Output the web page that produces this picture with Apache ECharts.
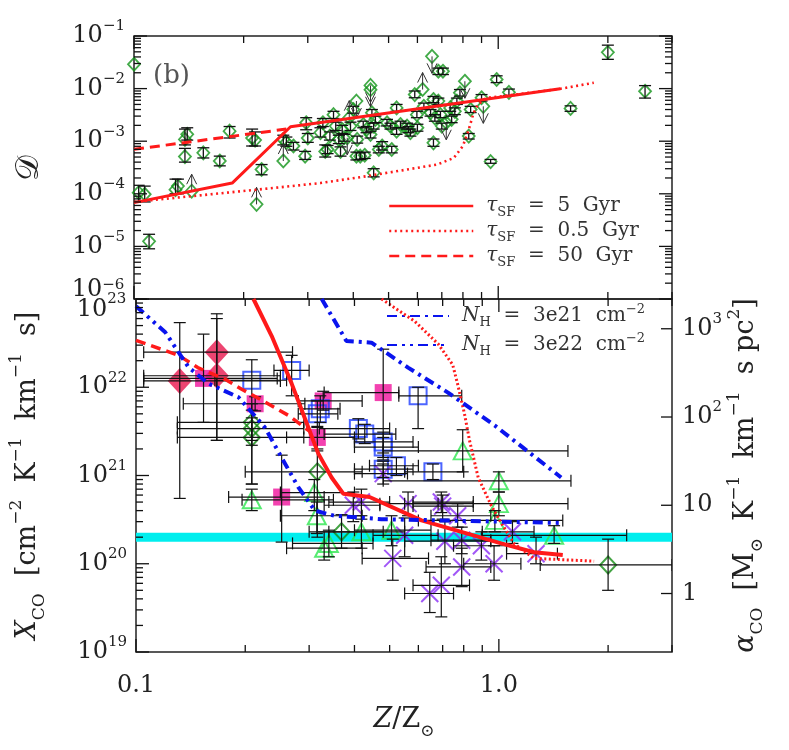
<!DOCTYPE html>
<html><head><meta charset="utf-8">
<script src="https://cdn.jsdelivr.net/npm/echarts@6/dist/echarts.min.js"></script>
<style>html,body{margin:0;padding:0;background:#fff}#c{width:789px;height:750px}</style>
</head><body><div id="c"></div><script>
// ---------------- axis ranges & ticks ----------------
const X_RANGE = [0.1, 3.0];
const D_RANGE = [1e-6, 1e-1];
const XCO_RANGE = [1e19, 1e23];
const XCO_PER_ALPHA = 4.6e19;
const xLabelTicks = [0.1, 1.0];
const xMinorTicks = [0.2, 0.3, 0.4, 0.5, 0.6, 0.7, 0.8, 0.9, 2, 3];
const dDecades = [1e-6, 1e-5, 1e-4, 1e-3, 1e-2, 1e-1];
const xcoDecades = [1e19, 1e20, 1e21, 1e22, 1e23];
const alphaTicks = [1, 10, 100, 1000];
const XCO_MILKY_WAY = 2e20;

// ---------------- top panel: dust-to-gas data [Z, D, Dlo, Dhi] ----------------
const topPoints = [
 [0.100, 2.9e-2, null, null], [0.103, 1.05e-4, 7.2e-5, 1.45e-4], [0.107, 9.8e-5, 7.0e-5, 1.4e-4],
 [0.110, 1.25e-5, 9.0e-6, 1.7e-5], [0.130, 1.2e-4, 1.0e-4, 1.9e-4], [0.132, 1.4e-4, 1.0e-4, 1.9e-4],
 [0.138, 1.08e-3, 8.5e-4, 1.7e-3], [0.140, 1.35e-3, 1.05e-3, 1.8e-3], [0.138, 5.1e-4, 4.0e-4, 7.3e-4],
 [0.155, 6.0e-4, 4.8e-4, 7.5e-4], [0.172, 4.2e-4, 3.4e-4, 5.2e-4], [0.183, 1.55e-3, 1.15e-3, 1.9e-3],
 [0.211, 1.15e-3, 8.1e-4, 1.7e-3], [0.215, 1.05e-3, 8.1e-4, 1.5e-3], [0.224, 2.9e-4, 2.3e-4, 3.6e-4],
 [0.257, 1.08e-3, 8.5e-4, 1.3e-3], [0.262, 9.5e-4, 8.0e-4, 1.2e-3], [0.274, 8.1e-4, 6.8e-4, 9.5e-4],
 [0.295, 5.2e-4, 4.5e-4, 6.4e-4], [0.297, 2.24e-3, 1.65e-3, 2.8e-3], [0.300, 1.15e-3, 9.5e-4, 1.4e-3],
 [0.325, 1.45e-3, 1.2e-3, 1.8e-3], [0.330, 2.24e-3, 1.9e-3, 2.7e-3], [0.335, 6.4e-4, 5.0e-4, 8.5e-4],
 [0.340, 6.95e-4, 5.8e-4, 8.3e-4], [0.345, 1.25e-3, 1.05e-3, 1.5e-3], [0.353, 3.2e-3, 2.7e-3, 3.7e-3],
 [0.358, 1.94e-3, 1.6e-3, 2.3e-3], [0.365, 1.08e-3, 9.0e-4, 1.3e-3], [0.369, 6.4e-4, 5.2e-4, 7.8e-4],
 [0.373, 1.67e-3, 1.4e-3, 2.0e-3], [0.377, 1.16e-3, 1.0e-3, 1.35e-3], [0.393, 1.94e-3, 1.6e-3, 2.3e-3],
 [0.400, 4.0e-3, 3.4e-3, 4.6e-3], [0.408, 5.2e-4, 4.4e-4, 6.2e-4], [0.410, 1.08e-3, 9.2e-4, 1.25e-3],
 [0.418, 5.2e-4, 4.5e-4, 6.0e-4], [0.426, 2.08e-3, 1.8e-3, 2.4e-3], [0.430, 5.4e-4, 4.7e-4, 6.2e-4],
 [0.435, 1.67e-3, 1.45e-3, 1.9e-3], [0.446, 1.34e-3, 1.15e-3, 1.55e-3], [0.450, 3.47e-3, 3.0e-3, 4.0e-3],
 [0.455, 1.94e-3, 1.7e-3, 2.2e-3], [0.455, 2.5e-4, 2.1e-4, 3.0e-4], [0.460, 2.6e-3, 2.25e-3, 3.0e-3],
 [0.470, 6.95e-4, 6.0e-4, 8.0e-4], [0.480, 8.1e-4, 6.8e-4, 9.8e-4], [0.495, 2.24e-3, 1.95e-3, 2.6e-3],
 [0.506, 1.94e-3, 1.7e-3, 2.2e-3], [0.510, 6.95e-4, 6.0e-4, 8.0e-4], [0.526, 4.3e-3, 3.7e-3, 5.0e-3],
 [0.526, 1.55e-3, 1.35e-3, 1.8e-3], [0.539, 2.08e-3, 1.8e-3, 2.4e-3], [0.562, 1.94e-3, 1.7e-3, 2.2e-3],
 [0.567, 1.67e-3, 1.45e-3, 1.9e-3], [0.574, 1.45e-3, 1.25e-3, 1.7e-3], [0.590, 7.7e-3, 6.7e-3, 9.0e-3],
 [0.598, 3.2e-3, 2.8e-3, 3.7e-3], [0.600, 1.8e-3, 1.55e-3, 2.1e-3], [0.625, 4.6e-3, 4.0e-3, 5.3e-3],
 [0.652, 3.47e-3, 3.0e-3, 4.0e-3], [0.664, 9.3e-4, 8.0e-4, 1.1e-3], [0.664, 6.2e-3, 5.4e-3, 7.1e-3],
 [0.670, 2.78e-3, 2.4e-3, 3.2e-3], [0.685, 5.8e-3, 5.0e-3, 6.6e-3], [0.685, 2.14e-2, 1.85e-2, 2.45e-2],
 [0.705, 2.14e-2, 1.85e-2, 2.45e-2], [0.694, 3.2e-3, 2.8e-3, 3.7e-3], [0.700, 1.94e-3, 1.7e-3, 2.2e-3],
 [0.738, 4.3e-3, 3.7e-3, 5.0e-3], [0.745, 2.6e-3, 2.25e-3, 3.0e-3], [0.760, 3.7e-3, 3.2e-3, 4.3e-3],
 [0.770, 5.8e-3, 5.0e-3, 6.6e-3], [0.785, 8.3e-3, 7.2e-3, 9.6e-3], [0.830, 1.25e-3, 1.1e-3, 1.4e-3],
 [0.840, 4.0e-3, 3.5e-3, 4.6e-3], [0.900, 6.7e-3, 5.8e-3, 7.7e-3], [0.953, 4.1e-4, 3.8e-4, 4.5e-4],
 [0.990, 1.49e-2, 1.3e-2, 1.75e-2], [1.07, 8.5e-3, 7.4e-3, 9.8e-3], [1.58, 4.2e-3, 3.7e-3, 4.7e-3],
 [2.00, 4.9e-2, 3.6e-2, 6.7e-2], [2.53, 8.9e-3, 6.6e-3, 1.14e-2]
];
const topLowerLimits = [[0.144, 1.12e-4], [0.217, 6.3e-5], [0.257, 4.2e-4], [0.620, 9.6e-3], [0.390, 2.8e-3]];
const topUpperLimits = [[0.385, 1.16e-3], [0.408, 5.8e-3], [0.446, 1.15e-2], [0.446, 9.5e-3],
 [0.658, 4.1e-2], [0.720, 2.24e-3], [0.810, 1.38e-2], [0.910, 4.6e-3]];

// top panel model curves
const tau5TopZ = [0.1, 0.186, 0.269, 1.48];
const tau5TopD = [6.8e-5, 1.6e-4, 1.88e-3, 9.9e-3];
const tau05TopZ = [0.1, 0.218, 0.325, 0.435, 0.68, 0.755, 0.80, 0.83, 0.856, 0.88, 0.93, 1.0, 1.48, 1.83];
const tau05TopD = [7.0e-5, 1.2e-4, 1.6e-4, 2.16e-4, 3.6e-4, 4.8e-4, 8.1e-4, 1.67e-3, 3.47e-3, 5.0e-3, 6.7e-3, 7.0e-3, 9.9e-3, 1.29e-2];
const tau50TopZ = [0.1, 0.262];
const tau50TopD = [7.0e-4, 1.7e-3];

// ---------------- bottom panel: X_CO data [Z, X, Zlo, Zhi, Xlo, Xhi] ----------------
const crimsonDiamonds = [
 [0.132, 1.18e22, 0.105, 0.25, 5.5e20, 5.4e22],
 [0.167, 2.5e22, 0.105, 0.27, 2.5e21, 6.8e22],
 [0.167, 1.35e22, 0.105, 0.25, 2.5e21, 6.0e22]
];
const magentaSquares = [
 [0.1535, 1.26e22, 0.105, 0.245, 4.0e21, 4.0e22],
 [0.213, 6.5e21, 0.135, 0.292, 5.4e21, 7.8e21],
 [0.252, 5.7e20, 0.18, 0.33, 1.76e20, 1.7e21],
 [0.316, 2.7e21, 0.26, 0.40, 2.0e21, 3.6e21],
 [0.328, 7.0e21, 0.28, 0.42, 5.5e21, 9.0e21],
 [0.48, 8.7e21, 0.33, 0.53, 1.5e21, 2.7e22]
];
const blueSquares = [
 [0.2085, 1.2e22, 0.165, 0.26, 8.0e20, 2.05e22],
 [0.2685, 1.55e22, 0.24, 0.30, 8.0e21, 2.3e22],
 [0.316, 5.0e21, 0.28, 0.36, 3.5e21, 7.0e21],
 [0.322, 5.7e21, 0.285, 0.365, 4.0e21, 8.0e21],
 [0.599, 8.0e21, 0.53, 0.79, 3.4e21, 1.0e22],
 [0.41, 3.4e21, 0.32, 0.50, 2.6e21, 4.4e21],
 [0.427, 2.95e21, 0.33, 0.52, 2.3e21, 3.8e21],
 [0.48, 2.4e21, 0.40, 0.58, 1.8e21, 3.1e21],
 [0.48, 2.1e21, 0.40, 0.60, 1.6e21, 2.7e21],
 [0.522, 1.29e21, 0.44, 0.60, 1.0e21, 1.6e21],
 [0.48, 1.18e21, 0.40, 0.58, 9.5e20, 1.45e21],
 [0.658, 1.1e21, 0.55, 0.80, 9.0e20, 1.35e21]
];
const greenDiamonds = [
 [0.2085, 4.0e21, 0.13, 0.29, 2.5e21, 6.5e21],
 [0.2085, 3.4e21, 0.13, 0.29, 2.2e21, 5.5e21],
 [0.2085, 2.7e21, 0.13, 0.29, 8.0e20, 4.5e21],
 [0.316, 1.1e21, 0.20, 0.42, 2.0e20, 1.9e21],
 [0.3685, 2.3e20, 0.30, 0.48, 1.5e20, 3.6e20],
 [2.0, 9.7e19, 1.3, 3.0, 5.0e19, 1.9e20]
];
const greenTriangles = [
 [0.2085, 5.3e20, 0.196, 0.35, 4.0e20, 7.0e20],
 [0.31, 6.4e20, 0.25, 0.40, 4.0e20, 9.0e20],
 [0.315, 3.5e20, 0.25, 0.42, 2.2e20, 5.0e20],
 [0.33, 1.5e20, 0.26, 0.42, 1.1e20, 2.3e20],
 [0.34, 1.7e20, 0.27, 0.45, 1.2e20, 2.4e20],
 [0.418, 2.3e20, 0.34, 0.55, 1.5e20, 3.5e20],
 [0.506, 2.4e20, 0.40, 0.65, 1.6e20, 3.5e20],
 [0.795, 1.9e21, 0.48, 1.55, 1.1e21, 3.3e21],
 [1.0, 8.7e20, 0.48, 1.58, 6.5e20, 1.1e21],
 [1.0, 4.8e20, 0.55, 1.55, 3.5e20, 6.5e20],
 [0.975, 3.1e20, 0.60, 1.50, 2.3e20, 4.0e20],
 [1.42, 2.1e20, 0.90, 2.25, 1.7e20, 2.7e20]
];
const purpleCrosses = [
 [0.48, 1.05e21, 0.40, 0.56, 8.0e20, 1.35e21],
 [0.418, 5.0e20, 0.34, 0.50, 3.2e20, 7.0e20],
 [0.397, 4.6e20, 0.33, 0.47, 3.0e20, 6.5e20],
 [0.562, 4.8e20, 0.47, 0.68, 3.5e20, 6.5e20],
 [0.694, 5.0e20, 0.58, 0.85, 3.8e20, 6.5e20],
 [0.70, 4.5e20, 0.58, 0.85, 3.2e20, 6.0e20],
 [0.77, 3.5e20, 0.65, 0.95, 2.6e20, 4.8e20],
 [0.55, 2.1e20, 0.45, 0.68, 1.2e20, 3.3e20],
 [0.71, 1.8e20, 0.55, 0.95, 1.0e20, 3.0e20],
 [0.79, 1.85e20, 0.65, 0.95, 1.3e20, 2.6e20],
 [0.895, 1.6e20, 0.75, 1.05, 1.1e20, 2.3e20],
 [0.97, 1.0e20, 0.80, 1.15, 6.5e19, 1.6e20],
 [0.51, 1.15e20, 0.42, 0.64, 6.5e19, 1.9e20],
 [0.79, 9.2e19, 0.63, 0.95, 5.5e19, 1.5e20],
 [0.694, 5.7e19, 0.58, 0.83, 2.5e19, 1.2e20],
 [0.645, 4.6e19, 0.55, 0.75, 2.8e19, 8.0e19],
 [1.09, 2.3e20, 0.90, 1.25, 1.7e20, 3.0e20],
 [1.266, 1.3e20, 1.05, 1.45, 1.0e20, 2.0e20]
];

// bottom panel model curves
const tau5BotZ = [0.2107, 0.2366, 0.2685, 0.2985, 0.318, 0.346, 0.373, 0.44, 0.612, 1.015, 1.25, 1.5];
const tau5BotX = [1e23, 3.8e22, 1.1e22, 3.5e21, 1.77e21, 9.5e20, 6.2e20, 5.7e20, 3.1e20, 1.7e20, 1.35e20, 1.26e20];
const tau50BotZ = [0.1, 0.131, 0.148, 0.176, 0.1956, 0.227, 0.263, 0.3];
const tau50BotX = [3.4e22, 2.3e22, 1.67e22, 1.23e22, 9.5e21, 6.8e21, 4.8e21, 3.2e21];
const tau05BotZ = [0.475, 0.586, 0.68, 0.746, 0.77, 0.804, 0.83, 0.877, 0.952, 1.015, 1.10, 1.25, 1.83];
const tau05BotX = [1e23, 5.6e22, 3.1e22, 1.8e22, 1.08e22, 5.0e21, 2.5e21, 9.5e20, 4.6e20, 2.9e20, 1.7e20, 1.15e20, 1.07e20];
const nh21Z = [0.325, 0.38, 0.4456, 0.562, 0.724, 0.973, 1.485];
const nh21X = [1e23, 3.35e22, 3.2e22, 1.67e22, 8.7e21, 3.7e21, 9.5e20];
const nh22Z = [0.1, 0.1204, 0.1396, 0.1584, 0.1917, 0.2266, 0.2519, 0.28, 0.311, 0.3525, 0.475, 1.48];
const nh22X = [8.3e22, 4.2e22, 1.68e22, 1.1e22, 7.7e21, 3.5e21, 1.6e21, 7.4e20, 4.0e20, 3.5e20, 3.2e20, 2.9e20];

// ---------------- build chart ----------------
const FONT = 'DejaVu Serif';
const INK = '#222';
const LG = Math.log10;
const pairs = (a, b) => a.map((v, i) => [v, b[i]]);
function minorDecadeValues(dec) {
  const o = [];
  for (let i = 0; i < dec.length - 1; i++) for (let k = 2; k <= 9; k++) o.push(k * dec[i]);
  return o;
}
const xr = [LG(X_RANGE[0]), LG(X_RANGE[1])];
const dr = [LG(D_RANGE[0]), LG(D_RANGE[1])];
const cr = [LG(XCO_RANGE[0]), LG(XCO_RANGE[1])];
const ar = [LG(XCO_RANGE[0] / XCO_PER_ALPHA), LG(XCO_RANGE[1] / XCO_PER_ALPHA)];

const supRich = {
  b: {fontFamily: FONT, fontSize: 24, lineHeight: 34, color: INK},
  s: {fontFamily: FONT, fontSize: 15, lineHeight: 15, verticalAlign: 'top', color: INK},
  bu: {fontFamily: FONT, fontSize: 24, lineHeight: 34, verticalAlign: 'top', color: INK},
  gu: {fontSize: 2, lineHeight: 42},
  bd: {fontFamily: FONT, fontSize: 24, lineHeight: 34, verticalAlign: 'bottom', color: INK},
  sd: {fontFamily: FONT, fontSize: 15, lineHeight: 15, color: INK},
  gd: {fontSize: 2, lineHeight: 46}
};
const nameRich = {
  n: {fontFamily: FONT, fontSize: 27, lineHeight: 40, color: INK},
  i: {fontFamily: FONT, fontSize: 27, lineHeight: 40, fontStyle: 'italic', color: INK},
  sub: {fontFamily: FONT, fontSize: 17, lineHeight: 17, verticalAlign: 'bottom', color: INK},
  sup: {fontFamily: FONT, fontSize: 17, lineHeight: 17, verticalAlign: 'top', color: INK}
};
const expStr = v => { const r = Math.round(v); return r < 0 ? '\u2212' + (-r) : '' + r; };

function lAx(grid, pos, range, label, extra) {
  const ax = {
    type: 'value', gridIndex: grid, position: pos, min: range[0], max: range[1],
    axisLine: {show: false, onZero: false}, splitLine: {show: false}, axisTick: {show: false},
    axisLabel: label ? Object.assign({show: true, fontFamily: FONT, color: INK}, label) : {show: false}
  };
  return Object.assign(ax, extra || {});
}

const xAxes = [
  {type: 'log', gridIndex: 0, min: X_RANGE[0], max: X_RANGE[1], show: false},
  {type: 'log', gridIndex: 1, min: X_RANGE[0], max: X_RANGE[1], show: false},
  lAx(1, 'bottom', xr, {
    customValues: xLabelTicks.map(LG), margin: 22, fontSize: 24,
    formatter: v => (Math.pow(10, v)).toFixed(1)
  }, {
    name: '{i|Z}{n|/Z}{sub|\u2299}', nameLocation: 'middle', nameGap: 48,
    nameTextStyle: {rich: nameRich}
  })
];
const yAxes = [
  {type: 'log', gridIndex: 0, min: D_RANGE[0], max: D_RANGE[1], show: false},
  {type: 'log', gridIndex: 1, min: XCO_RANGE[0], max: XCO_RANGE[1], show: false},
  lAx(0, 'left', dr, {
    customValues: dDecades.map(LG), margin: 9, rich: supRich,
    formatter: v => Math.round(v) === -6 ? '{bu|10}{s|' + expStr(v) + '}{gu| }' : '{b|10}{s|' + expStr(v) + '}'
  }, {
    name: '\uD835\uDC9F', nameLocation: 'middle', nameGap: 88, nameRotate: 90,
    nameTextStyle: {fontFamily: FONT, fontSize: 32, color: INK}
  }),
  lAx(1, 'left', cr, {
    customValues: xcoDecades.map(LG), margin: 9, rich: supRich,
    formatter: v => {
      const r = Math.round(v);
      if (r === 23) return '{bd|10}{sd|' + expStr(v) + '}{gd| }';
      return '{b|10}{s|' + expStr(v) + '}';
    }
  }, {
    name: '{i|X}{sub|CO}{n|  [cm}{sup|\u22122}{n|  K}{sup|\u22121}{n|  km}{sup|\u22121}{n|  s]}',
    nameLocation: 'middle', nameGap: 88, nameRotate: 90, nameTextStyle: {rich: nameRich}
  }),
  lAx(1, 'right', ar, {
    customValues: alphaTicks.map(LG), margin: 10, rich: supRich,
    formatter: v => { const r = Math.round(v); return r === 0 ? '{b|1}' : r === 1 ? '{b|10}' : '{b|10}{s|' + r + '}'; }
  }, {
    name: '{i|\u03B1}{sub|CO}{n|  [M}{sub|\u2299}{n|  K}{sup|\u22121}{n|  km}{sup|\u22121}{n|  s pc}{sup|2}{n|]}',
    nameLocation: 'middle', nameGap: 54, nameRotate: 90, nameMoveOverlap: false, nameTextStyle: {rich: nameRich}
  })
];

// ---------------- renderers ----------------
const tickStyle = {stroke: '#111', lineWidth: 1.3};
function xTicks(yRange, len, top, bottom) {
  return function (params, api) {
    const v = api.value(0);
    const a = api.coord([v, yRange[0]]), b = api.coord([v, yRange[1]]);
    const ch = [];
    if (bottom) ch.push({type: 'line', shape: {x1: a[0], y1: a[1], x2: a[0], y2: a[1] - len}, style: tickStyle});
    if (top) ch.push({type: 'line', shape: {x1: b[0], y1: b[1], x2: b[0], y2: b[1] + len}, style: tickStyle});
    return {type: 'group', children: ch};
  };
}
function yTicks(len, left, right) {
  return function (params, api) {
    const v = api.value(1);
    const a = api.coord([X_RANGE[0], v]), b = api.coord([X_RANGE[1], v]);
    const ch = [];
    if (left) ch.push({type: 'line', shape: {x1: a[0], y1: a[1], x2: a[0] + len, y2: a[1]}, style: tickStyle});
    if (right) ch.push({type: 'line', shape: {x1: b[0], y1: b[1], x2: b[0] - len, y2: b[1]}, style: tickStyle});
    return {type: 'group', children: ch};
  };
}
function errY(params, api) {
  const z = api.value(0), lo = api.value(2), hi = api.value(3);
  if (isNaN(lo) || isNaN(hi)) return null;
  const a = api.coord([z, lo]), b = api.coord([z, hi]);
  const st = {stroke: '#111', lineWidth: 1.3};
  const c = 6;
  return {type: 'group', children: [
    {type: 'line', shape: {x1: a[0], y1: a[1], x2: b[0], y2: b[1]}, style: st},
    {type: 'line', shape: {x1: a[0] - c, y1: a[1], x2: a[0] + c, y2: a[1]}, style: st},
    {type: 'line', shape: {x1: b[0] - c, y1: b[1], x2: b[0] + c, y2: b[1]}, style: st}
  ]};
}
function errXY(params, api) {
  const z = api.value(0), v = api.value(1);
  const a = api.coord([api.value(2), v]), b = api.coord([api.value(3), v]);
  const d = api.coord([z, api.value(4)]), e = api.coord([z, api.value(5)]);
  const st = {stroke: '#111', lineWidth: 1.2};
  const c = 6;
  return {type: 'group', children: [
    {type: 'line', shape: {x1: a[0], y1: a[1], x2: b[0], y2: b[1]}, style: st},
    {type: 'line', shape: {x1: a[0], y1: a[1] - c, x2: a[0], y2: a[1] + c}, style: st},
    {type: 'line', shape: {x1: b[0], y1: b[1] - c, x2: b[0], y2: b[1] + c}, style: st},
    {type: 'line', shape: {x1: d[0], y1: d[1], x2: e[0], y2: e[1]}, style: st},
    {type: 'line', shape: {x1: d[0] - c, y1: d[1], x2: d[0] + c, y2: d[1]}, style: st},
    {type: 'line', shape: {x1: e[0] - c, y1: e[1], x2: e[0] + c, y2: e[1]}, style: st}
  ]};
}
function arrows(dir) {
  return function (params, api) {
    const p = api.coord([api.value(0), api.value(1)]);
    const tip = p[1] - dir * 17;
    const st = {stroke: '#333', lineWidth: 1, fill: 'none'};
    return {type: 'group', children: [
      {type: 'line', shape: {x1: p[0], y1: p[1], x2: p[0], y2: tip}, style: st},
      {type: 'polyline', shape: {points: [[p[0] - 5, tip + dir * 10], [p[0], tip], [p[0] + 5, tip + dir * 10]]}, style: st}
    ]};
  };
}

const series = [];
const MAJ = 13, MINL = 7;
function tickSeries(grid, data, render) {
  series.push({type: 'custom', xAxisIndex: grid, yAxisIndex: grid, data: data, renderItem: render, z: 6, clip: false});
}
tickSeries(0, xLabelTicks.map(v => [v, D_RANGE[0]]), xTicks(D_RANGE, MAJ, true, true));
tickSeries(0, xMinorTicks.map(v => [v, D_RANGE[0]]), xTicks(D_RANGE, MINL, true, true));
tickSeries(0, dDecades.map(v => [X_RANGE[0], v]), yTicks(MAJ, true, true));
tickSeries(0, minorDecadeValues(dDecades).map(v => [X_RANGE[0], v]), yTicks(MINL, true, true));
tickSeries(1, xLabelTicks.map(v => [v, XCO_RANGE[0]]), xTicks(XCO_RANGE, MAJ, true, true));
tickSeries(1, xMinorTicks.map(v => [v, XCO_RANGE[0]]), xTicks(XCO_RANGE, MINL, true, true));
tickSeries(1, xcoDecades.map(v => [X_RANGE[0], v]), yTicks(MAJ, true, false));
tickSeries(1, minorDecadeValues(xcoDecades).map(v => [X_RANGE[0], v]), yTicks(MINL, true, false));
tickSeries(1, alphaTicks.map(a => [X_RANGE[1], a * XCO_PER_ALPHA]), yTicks(11, false, true));

series.push({type: 'custom', name: 'topErr', xAxisIndex: 0, yAxisIndex: 0, renderItem: errY, data: topPoints, z: 3, clip: true});
series.push({type: 'custom', name: 'topLow', xAxisIndex: 0, yAxisIndex: 0, renderItem: arrows(1), data: topLowerLimits, z: 3, clip: true});
series.push({type: 'custom', name: 'topUp', xAxisIndex: 0, yAxisIndex: 0, renderItem: arrows(-1), data: topUpperLimits, z: 3, clip: true});
series.push({type: 'scatter', name: 'topDiam', xAxisIndex: 0, yAxisIndex: 0,
  data: topPoints.map(r => [r[0], r[1]]).concat(topLowerLimits, topUpperLimits),
  symbol: 'diamond', symbolSize: [12, 13], z: 2,
  itemStyle: {color: 'none', borderColor: '#13951a', borderWidth: 1.8}});
const redTop = {color: '#ff1a1a'};
series.push({type: 'line', name: 'top5', xAxisIndex: 0, yAxisIndex: 0, data: pairs(tau5TopZ, tau5TopD), symbol: 'none', z: 5,
  lineStyle: Object.assign({width: 3, type: 'solid'}, redTop), itemStyle: redTop});
series.push({type: 'line', name: 'top05', xAxisIndex: 0, yAxisIndex: 0, data: pairs(tau05TopZ, tau05TopD), symbol: 'none', z: 5,
  lineStyle: Object.assign({width: 2.6, type: [2, 3.5]}, redTop), itemStyle: redTop});
series.push({type: 'line', name: 'top50', xAxisIndex: 0, yAxisIndex: 0, data: pairs(tau50TopZ, tau50TopD), symbol: 'none', z: 5,
  lineStyle: Object.assign({width: 3, type: [10, 6]}, redTop), itemStyle: redTop});

series.push({type: 'line', name: 'mw', xAxisIndex: 1, yAxisIndex: 1, data: [[X_RANGE[0], XCO_MILKY_WAY], [X_RANGE[1], XCO_MILKY_WAY]],
  symbol: 'none', z: 1, lineStyle: {color: '#00eeee', width: 9}});
function symSeries(name, data, symbol, size, style) {
  series.push({type: 'scatter', name: name, xAxisIndex: 1, yAxisIndex: 1, data: data.map(r => [r[0], r[1]]),
    symbol: symbol, symbolSize: size, z: 2, itemStyle: style});
  series.push({type: 'custom', name: name + 'Err', xAxisIndex: 1, yAxisIndex: 1, data: data, renderItem: errXY, z: 3, clip: true});
}
symSeries('crim', crimsonDiamonds, 'diamond', [24, 26], {color: '#e8174e'});
symSeries('mag', magentaSquares, 'rect', 17, {color: '#f0139c'});
symSeries('bsq', blueSquares, 'rect', 17, {color: 'none', borderColor: '#1f3fff', borderWidth: 2});
symSeries('gdi', greenDiamonds, 'diamond', [16, 17], {color: 'none', borderColor: '#148c14', borderWidth: 2});
symSeries('gtr', greenTriangles, 'triangle', [18, 17], {color: 'none', borderColor: '#2de64f', borderWidth: 2});
symSeries('pur', purpleCrosses, 'path://M0,0L10,10M10,0L0,10', 17, {color: 'none', borderColor: '#8a2cf5', borderWidth: 2});

const redB = {color: '#ff1a1a'};
series.push({type: 'line', name: 'bot5', xAxisIndex: 1, yAxisIndex: 1, data: pairs(tau5BotZ, tau5BotX), symbol: 'none', z: 5,
  lineStyle: Object.assign({width: 4}, redB)});
series.push({type: 'line', name: 'bot50', xAxisIndex: 1, yAxisIndex: 1, data: pairs(tau50BotZ, tau50BotX), symbol: 'none', z: 5,
  lineStyle: Object.assign({width: 3.5, type: [10, 6]}, redB)});
series.push({type: 'line', name: 'bot05', xAxisIndex: 1, yAxisIndex: 1, data: pairs(tau05BotZ, tau05BotX), symbol: 'none', z: 5,
  lineStyle: Object.assign({width: 3, type: [2, 2.5]}, redB)});
const blue = {color: '#0a14ee'};
series.push({type: 'line', name: 'nh21', xAxisIndex: 1, yAxisIndex: 1, data: pairs(nh21Z, nh21X), symbol: 'none', z: 5,
  lineStyle: Object.assign({width: 4, type: [10, 5, 3, 5]}, blue), itemStyle: blue});
series.push({type: 'line', name: 'nh22', xAxisIndex: 1, yAxisIndex: 1, data: pairs(nh22Z, nh22X), symbol: 'none', z: 5,
  lineStyle: Object.assign({width: 4, type: [10, 5, 3, 5, 3, 5]}, blue), itemStyle: blue});

const legRich = {
  n: {fontFamily: FONT, fontSize: 20, lineHeight: 26, color: '#333'},
  t: {fontFamily: FONT, fontSize: 20, lineHeight: 26, fontStyle: 'italic', color: '#333'},
  s: {fontFamily: FONT, fontSize: 13, lineHeight: 12, verticalAlign: 'bottom', color: '#333'},
  p: {fontFamily: FONT, fontSize: 13, lineHeight: 12, verticalAlign: 'top', color: '#333'}
};
const legendText = {
  top5: '{t|\u03C4}{s|SF}{n|  =  5  Gyr}',
  top05: '{t|\u03C4}{s|SF}{n|  =  0.5  Gyr}',
  top50: '{t|\u03C4}{s|SF}{n|  =  50  Gyr}',
  nh21: '{t|N}{s|H}{n|  =  3e21  cm}{p|\u22122}',
  nh22: '{t|N}{s|H}{n|  =  3e22  cm}{p|\u22122}'
};
function leg(name, left, top, w, lw) {
  return {data: [name], left: left, top: top, padding: 0, itemWidth: w, itemHeight: 10, selectedMode: false,
    lineStyle: {width: lw}, itemStyle: {color: 'rgba(0,0,0,0)', borderWidth: 0, opacity: 0},
    formatter: n => legendText[n],
    textStyle: {rich: legRich, padding: [0, 0, 0, 8]}};
}

const option = {
  animation: false,
  backgroundColor: '#fff',
  title: {text: '(b)', left: 148, top: 58, textStyle: {fontFamily: FONT, fontSize: 26, fontWeight: 'normal', color: '#555'}},
  grid: [
    {left: 134, top: 36, width: 538, height: 263, show: true, borderColor: INK, borderWidth: 1.5, backgroundColor: 'transparent'},
    {left: 134, top: 299, width: 538, height: 353, show: true, borderColor: INK, borderWidth: 1.5, backgroundColor: 'transparent'}
  ],
  legend: [
    leg('top5', 388, 196, 84, 2.5), leg('top05', 388, 221, 84, 2.5), leg('top50', 388, 246, 84, 2.5),
    leg('nh21', 386, 303, 62, 2), leg('nh22', 386, 332, 62, 2)
  ],
  xAxis: xAxes,
  yAxis: yAxes,
  series: series
};
const chart = echarts.init(document.getElementById('c'));
chart.setOption(option);
</script></body></html>
